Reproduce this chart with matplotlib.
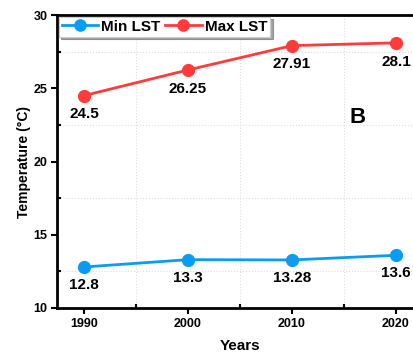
import matplotlib.pyplot as plt
import matplotlib.ticker as ticker

plt.rcParams['font.family'] = ['Liberation Sans', 'DejaVu Sans']
plt.rcParams['font.weight'] = 'bold'

years = [1990, 2000, 2010, 2020]
min_lst = [12.8, 13.3, 13.28, 13.6]
max_lst = [24.5, 26.25, 27.91, 28.1]
min_labels = ['12.8', '13.3', '13.28', '13.6']
max_labels = ['24.5', '26.25', '27.91', '28.1']

blue = '#0a9cf5'
red = '#ff3b3b'

fig = plt.figure(figsize=(4.14, 3.56), dpi=100)
# axes run past the right edge of the figure
ax = fig.add_axes([57/414, 48/356, 366/414, 293/356])

ax.plot(years, min_lst, '-o', color=blue, lw=2, ms=8.5, label='Min LST', zorder=3)
ax.plot(years, max_lst, '-o', color=red, lw=2, ms=8.5, label='Max LST', zorder=3)

for x, y, s in zip(years, min_lst, min_labels):
    ax.annotate(s, (x, y), xytext=(0, -13), textcoords='offset points',
                ha='center', va='center', fontsize=11, fontweight='bold')
for x, y, s in zip(years, max_lst, max_labels):
    ax.annotate(s, (x, y), xytext=(0, -13.5), textcoords='offset points',
                ha='center', va='center', fontsize=11, fontweight='bold')

ax.text(2016.3, 23.0, 'B', fontsize=16, fontweight='bold', ha='center', va='center')

ax.set_xlim(1987.4, 2022.6)
ax.set_ylim(10, 30)
ax.set_xticks(years)
ax.xaxis.set_minor_locator(ticker.MultipleLocator(5))
ax.yaxis.set_major_locator(ticker.MultipleLocator(5))
ax.yaxis.set_minor_locator(ticker.MultipleLocator(2.5))
ax.grid(which='minor', color='#dddddd', ls=':', lw=0.8)
ax.grid(which='major', visible=False)

ax.tick_params(which='major', direction='out', length=4, width=1.5, labelsize=9, pad=3)
ax.tick_params(which='minor', direction='in', length=3, width=1.5)
for lab in ax.get_xticklabels() + ax.get_yticklabels():
    lab.set_fontweight('bold')
for sp in ax.spines.values():
    sp.set_linewidth(2)

ax.set_xlabel('Years', fontsize=11, fontweight='bold', labelpad=7)
ax.set_ylabel('Temperature (°C)', fontsize=10, fontweight='bold', labelpad=1.5)

leg = ax.legend(loc='upper left', ncol=2, frameon=True, shadow=True, fancybox=False,
                fontsize=11, handlelength=2.4, columnspacing=0.3, handletextpad=0.2,
                borderpad=0.2, borderaxespad=0.1, markerscale=0.95)
leg.get_frame().set_edgecolor('#cccccc')
leg.get_frame().set_linewidth(0.8)

fig.savefig('out.png', dpi=100)
